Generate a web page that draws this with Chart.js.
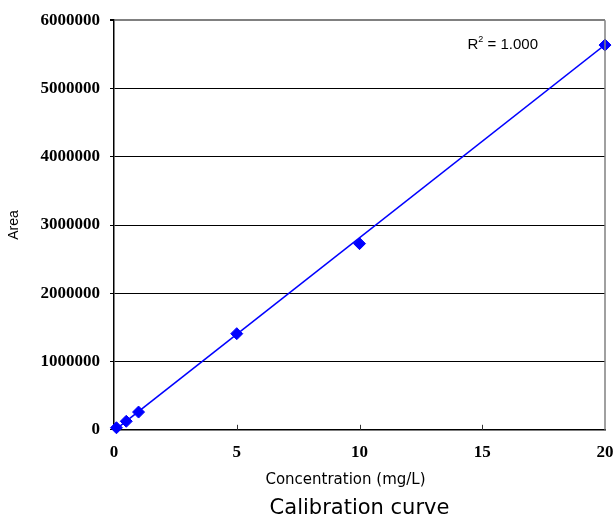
<!DOCTYPE html>
<html>
<head>
    <title>Calibration curve</title>
    <script src="https://cdn.jsdelivr.net/npm/chart.js@4.4.1/dist/chart.umd.min.js"></script>
    <style>
        body { margin: 0; background: #fff; }
    </style>
</head>
<body>
<canvas id="myChart" width="614" height="521"></canvas>

<script>
// calibration standards
var concentration = [0.1, 0.5, 1, 5, 10, 20];
var area = [30000, 125000, 260000, 1408000, 2727000, 5636000];
// linear trendline ends
var trendX = [0, 20];
var trendY = [-15000, 5640000];
var xTicks = [0, 5, 10, 15, 20];
var yTicks = [0, 1000000, 2000000, 3000000, 4000000, 5000000, 6000000];
var xTitle = 'Concentration (mg/L)';
var r2 = '1.000';

function pts(xs, ys) {
    return xs.map(function (x, i) { return { x: x, y: ys[i] }; });
}

var frame = {
    id: 'frame',
    afterDraw: function (chart) {
        var c = chart.ctx, a = chart.chartArea, xs = chart.scales.x, ys = chart.scales.y;
        c.save();
        // right border
        c.strokeStyle = '#808080';
        c.lineWidth = 1.5;
        c.beginPath();
        c.moveTo(a.right, a.top);
        c.lineTo(a.right, a.bottom);
        c.stroke();
        // inward x ticks
        c.strokeStyle = '#333';
        c.lineWidth = 1;
        xTicks.slice(1, -1).forEach(function (v) {
            var px = Math.round(xs.getPixelForValue(v)) + 0.5;
            c.beginPath();
            c.moveTo(px, a.bottom);
            c.lineTo(px, a.bottom - 5);
            c.stroke();
        });
        // x axis title (sits a bit left of centre in the original)
        c.fillStyle = '#000';
        c.textBaseline = 'middle';
        c.textAlign = 'center';
        c.font = '15px "DejaVu Sans", sans-serif';
        c.fillText(xTitle, (a.left + a.right) / 2 - 14, a.bottom + 50);
        // R² text
        c.textAlign = 'left';
        var x0 = xs.getPixelForValue(14.4), y0 = ys.getPixelForValue(5640000);
        c.font = '15px "Liberation Sans", Arial, sans-serif';
        c.fillText('R', x0, y0);
        var w = c.measureText('R').width;
        c.font = '9px "Liberation Sans", Arial, sans-serif';
        c.fillText('2', x0 + w, y0 - 5);
        w += c.measureText('2').width;
        c.font = '15px "Liberation Sans", Arial, sans-serif';
        c.fillText(' = ' + r2, x0 + w, y0);
        c.restore();
    }
};

var ctx = document.getElementById('myChart').getContext('2d');
var myChart = new Chart(ctx, {
    type: 'scatter',
    data: {
        datasets: [{
            label: 'Standards',
            data: pts(concentration, area),
            backgroundColor: '#0000ff',
            borderColor: '#0000ff',
            pointStyle: 'rectRot',
            pointRadius: 6,
            clip: false,
            order: 1
        }, {
            label: 'Linear fit',
            type: 'line',
            data: pts(trendX, trendY),
            borderColor: '#0000ff',
            borderWidth: 1.5,
            pointRadius: 0,
            fill: false,
            order: 2
        }]
    },
    options: {
        responsive: false,
        animation: false,
        layout: { padding: { left: 2, right: 0, top: 8, bottom: 0 } },
        plugins: {
            legend: { display: false },
            tooltip: { enabled: false },
            title: {
                display: true,
                position: 'bottom',
                fullSize: false,
                text: 'Calibration curve',
                color: '#000',
                font: { family: '"DejaVu Sans", sans-serif', size: 21, weight: 'normal' },
                padding: { top: 2, bottom: 0 }
            }
        },
        scales: {
            x: {
                type: 'linear',
                min: 0,
                max: 20,
                afterBuildTicks: function (s) { s.ticks = xTicks.map(function (v) { return { value: v }; }); },
                afterFit: function (s) { s.height = 64; s.paddingRight = 9; },
                ticks: {
                    color: '#000',
                    font: { family: '"Liberation Serif", "Times New Roman", serif', size: 17, weight: 'bold' },
                    padding: 5,
                    maxRotation: 0
                },
                grid: { display: false },
                border: { color: '#000', width: 1.5 }
            },
            y: {
                min: 0,
                max: 6000000,
                afterBuildTicks: function (s) { s.ticks = yTicks.map(function (v) { return { value: v }; }); },
                afterFit: function (s) { s.width = 112; },
                ticks: {
                    color: '#000',
                    font: { family: '"Liberation Serif", "Times New Roman", serif', size: 17, weight: 'bold' },
                    padding: 10,
                    callback: function (v) { return String(v); }
                },
                grid: {
                    color: function (c) { return c.tick && c.tick.value === 6000000 ? '#808080' : '#000'; },
                    lineWidth: function (c) { return c.tick && c.tick.value === 6000000 ? 2 : 1; },
                    tickLength: 4,
                    tickColor: '#000'
                },
                border: { color: '#000', width: 1.5 },
                title: {
                    display: true,
                    text: 'Area',
                    color: '#000',
                    font: { family: '"Liberation Sans", Arial, sans-serif', size: 14 },
                    padding: { top: 4, bottom: 0 }
                }
            }
        }
    },
    plugins: [frame]
});
</script>
</body>
</html>
